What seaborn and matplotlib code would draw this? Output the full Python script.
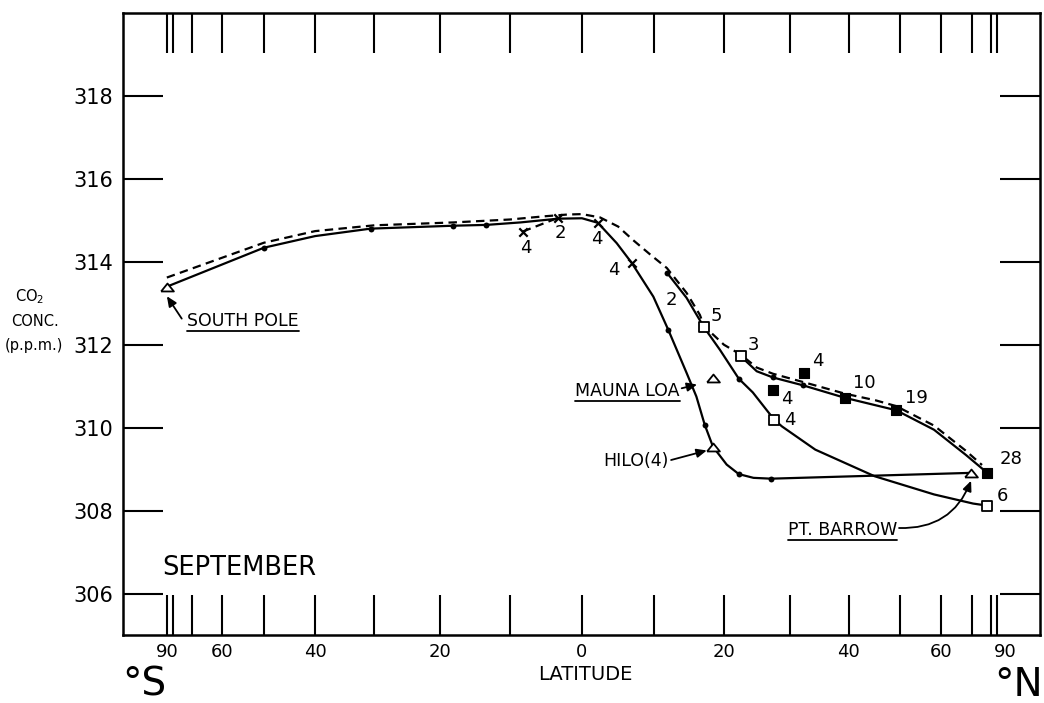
import numpy as np
import pandas as pd
import matplotlib
matplotlib.use("Agg")
import matplotlib.pyplot as plt
import seaborn as sns
from matplotlib.lines import Line2D
from matplotlib.transforms import ScaledTranslation

# ---------------------------------------------------------------------------
# September CO2 concentration (p.p.m.) against latitude (deg, south negative)
# ---------------------------------------------------------------------------

# Solid curve: South Pole -> equator -> Hilo -> Pt. Barrow
curve_a_lat = [-90, -50, -40, -30.6, -18.1, -13.3, -8.5, -3.3, 0, 2.2, 4.8, 6.9,
               9.9, 12.0, 14.6, 16.0, 17.2, 18.4, 20.4, 22.2, 24.4, 27.1, 69.5]
curve_a_co2 = [313.40, 314.34, 314.62, 314.80, 314.87, 314.89, 314.95, 315.04,
               315.05, 314.94, 314.45, 313.97, 313.16, 312.36, 311.32, 310.75,
               310.07, 309.54, 309.11, 308.88, 308.79, 308.77, 308.91]

# Dashed curve: zonal mean
curve_b_lat = [-89.5, -50, -40, -30, -18, -10, -5, -2, 0, 2.5, 5, 7.1, 9.5, 11.8,
               14.6, 16.5, 17.1, 20, 22.5, 24.9, 27.4, 32.2, 39.3, 45, 49.2, 58,
               67.5, 74.5]
curve_b_co2 = [313.62, 314.46, 314.74, 314.88, 314.95, 315.02, 315.10, 315.14,
               315.15, 315.07, 314.85, 314.52, 314.17, 313.85, 313.25, 312.72,
               312.45, 312.00, 311.76, 311.45, 311.30, 311.10, 310.82, 310.66,
               310.52, 310.05, 309.45, 309.10]

# Solid curve: aircraft profile ending at the open square near Pt. Barrow
curve_c_lat = [11.8, 14.6, 17.1, 19.4, 22.2, 24.3, 27.6, 28.8, 34.2, 44.8, 58,
               70.4, 77.5]
curve_c_co2 = [313.74, 313.13, 312.42, 311.88, 311.18, 310.85, 310.19, 310.03,
               309.47, 308.83, 308.39, 308.17, 308.12]

# Solid curve: ship profile ending at the filled square near Pt. Barrow
curve_d_lat = [22.5, 24.9, 27.4, 32.2, 39.3, 49.2, 58, 67.5, 77.5]
curve_d_co2 = [311.72, 311.36, 311.21, 311.02, 310.72, 310.42, 309.95, 309.35,
               308.91]

# Short dashed link between two ship samples south of the equator
link_lat = [-8.2, -3.3]
link_co2 = [314.73, 315.06]

# Plotted points on the curves
dot_lat = [-50, -30.6, -18.1, -13.3, 12.0, 17.2, 22.2, 27.1, 11.8, 22.2, 27.4, 32.2]
dot_co2 = [314.34, 314.80, 314.87, 314.89, 312.36, 310.07, 308.88, 308.77,
           313.74, 311.18, 311.21, 311.02]

# Station records (open triangles)
station_name = ["South Pole", "Mauna Loa", "Hilo", "Pt. Barrow"]
station_lat = [-90, 18.4, 18.4, 69.5]
station_co2 = [313.40, 311.20, 309.54, 308.91]

# Ship samples (crosses) with number of samples
ship_lat = [-8.2, -3.3, 2.2, 6.9]
ship_co2 = [314.73, 315.06, 314.94, 313.97]
ship_n = ["4", "2", "4", "4"]

# Aircraft samples (open squares) with number of samples
air_lat = [17.1, 22.5, 27.6, 77.5]
air_co2 = [312.42, 311.72, 310.19, 308.12]
air_n = ["5", "3", "4", "6"]

# Flask samples (filled squares) with number of samples
flask_lat = [27.4, 32.3, 39.3, 49.2, 77.5]
flask_co2 = [310.92, 311.33, 310.72, 310.42, 308.91]
flask_n = ["4", "4", "10", "19", "28"]

# Axis tick values
lat_ticks = list(range(-90, 91, 10))
lat_labelled = {90: "90", 60: "60", 40: "40", 20: "20", 0: "0"}
co2_ticks = [306, 308, 310, 312, 314, 316, 318]


# Latitude axis drawn in sine of latitude, extended linearly past the poles
def sine_lat(lat):
    lat = np.asarray(lat, dtype=float)
    a = np.abs(lat)
    core = np.sin(np.radians(np.minimum(a, 90.0)))
    return np.sign(lat) * np.where(a <= 90.0, core, 1.0 + (a - 90.0) / 90.0)


def sine_lat_inv(s):
    s = np.asarray(s, dtype=float)
    a = np.abs(s)
    core = np.degrees(np.arcsin(np.minimum(a, 1.0)))
    return np.sign(s) * np.where(a <= 1.0, core, 90.0 + (a - 1.0) * 90.0)


sns.set_theme(style="white")
plt.rcParams["font.family"] = ["DejaVu Sans"]
plt.rcParams["axes.linewidth"] = 1.8
plt.rcParams["text.color"] = "black"

W, H = 1044, 703
fig = plt.figure(figsize=(W / 100, H / 100), dpi=100)
fig.patch.set_facecolor("white")
ax = fig.add_axes([123 / W, 1 - 635 / H, (1040 - 123) / W, (635 - 13) / H])
ax.set_facecolor("white")

LW = 1.6
ink = "black"

for lat, co2, dashed in [(curve_a_lat, curve_a_co2, False),
                         (curve_b_lat, curve_b_co2, True),
                         (curve_c_lat, curve_c_co2, False),
                         (curve_d_lat, curve_d_co2, False),
                         (link_lat, link_co2, True)]:
    df = pd.DataFrame({"lat": lat, "co2": co2})
    kw = dict(linestyle=(0, (3.8, 2.4))) if dashed else {}
    sns.lineplot(data=df, x="lat", y="co2", sort=False, estimator=None,
                 color=ink, lw=LW, ax=ax, zorder=2, **kw)

# point markers
sns.scatterplot(x=dot_lat, y=dot_co2, color=ink, s=18, edgecolor=ink,
                linewidth=0, ax=ax, zorder=4)

tri = [(-1, -0.62), (1, -0.62), (0, 0.62), (-1, -0.62)]
sns.scatterplot(x=station_lat, y=station_co2, marker=tri, s=85,
                facecolor="white", edgecolor=ink, linewidth=1.3, ax=ax, zorder=5)
sns.scatterplot(x=ship_lat, y=ship_co2, marker="x", s=36, color=ink,
                linewidth=1.6, ax=ax, zorder=5)
sns.scatterplot(x=air_lat, y=air_co2, marker="s", s=48, facecolor="white",
                edgecolor=ink, linewidth=1.3, ax=ax, zorder=5)
sns.scatterplot(x=flask_lat, y=flask_co2, marker="s", s=44, color=ink,
                edgecolor=ink, linewidth=0.8, ax=ax, zorder=5)

ax.set_xscale("function", functions=(sine_lat, sine_lat_inv))
ax.set_xlim(-99.5, 99.3)
ax.set_ylim(305, 320)

# sample-count labels beside their markers (offsets in points)
count_fs = 13


def count_label(lat, co2, txt, dx, dy, ha="left", va="center"):
    ax.annotate(txt, xy=(lat, co2), xytext=(dx, dy), textcoords="offset points",
                ha=ha, va=va, fontsize=count_fs, color=ink, zorder=6)


ship_off = [(2, -12), (2, -11), (-1, -12), (-9, -5)]
ship_ha = ["center", "center", "center", "right"]
for la, c, n, (dx, dy), ha in zip(ship_lat, ship_co2, ship_n, ship_off, ship_ha):
    count_label(la, c, n, dx, dy, ha=ha)

air_off = [(5, 8), (5, 8), (7, 0), (7, 7)]
for la, c, n, (dx, dy) in zip(air_lat, air_co2, air_n, air_off):
    count_label(la, c, n, dx, dy)

flask_off = [(6, -7), (6, 8), (6, 11), (6, 9), (9, 10)]
for la, c, n, (dx, dy) in zip(flask_lat, flask_co2, flask_n, flask_off):
    count_label(la, c, n, dx, dy)

ax.text(12.5, 313.08, "2", fontsize=count_fs, ha="center", va="center", color=ink)

# station names with arrows
name_fs = 12.5
arrow_kw = dict(arrowstyle="-|>,head_length=0.5,head_width=0.22", color=ink,
                lw=1.3, shrinkA=0, shrinkB=0)


def station_text(x, y, txt, ha, underline=True):
    t = ax.text(x, y, txt, fontsize=name_fs, ha=ha, va="center", color=ink,
                zorder=6)
    return (t, underline)


labels = [
    station_text(-72.0, 312.57, "SOUTH POLE", "left"),
    station_text(13.6, 310.89, "MAUNA LOA", "right"),
    station_text(12.0, 309.19, "HILO(4)", "right", underline=False),
    station_text(49.4, 307.54, "PT. BARROW", "right"),
]

ax.annotate("", xy=(-89.0, 313.17), xytext=(-74.6, 312.63), arrowprops=arrow_kw)
ax.annotate("", xy=(16.1, 311.04), xytext=(13.9, 310.95), arrowprops=arrow_kw)
ax.annotate("", xy=(17.5, 309.45), xytext=(12.4, 309.22), arrowprops=arrow_kw)
ax.annotate("", xy=(69.6, 308.72), xytext=(49.8, 307.58),
            arrowprops=dict(arrow_kw, connectionstyle="arc3,rad=0.35"))

ax.text(0.0425, 0.1085, "SEPTEMBER", transform=ax.transAxes, fontsize=18.5,
        ha="left", va="center", color=ink)

# ticks: long inward marks on all four sides
ax.set_xticks(lat_ticks)
ax.set_xticklabels([lat_labelled.get(abs(v), "") for v in lat_ticks])
ax.set_yticks(co2_ticks)
ax.set_yticklabels([str(v) for v in co2_ticks])
ax.tick_params(axis="x", which="major", direction="in", length=29, width=1.5,
               top=True, bottom=True, labelsize=13, pad=6, colors=ink)
ax.tick_params(axis="y", which="major", direction="in", length=29, width=1.5,
               left=True, right=True, labelsize=15, pad=7, colors=ink)
ax.minorticks_off()
for sp in ax.spines.values():
    sp.set_visible(True)
    sp.set_color(ink)
    sp.set_linewidth(1.8)

xt = ax.get_xticklabels()
xt[-1].set_transform(xt[-1].get_transform() +
                     ScaledTranslation(6 / 72, 0, fig.dpi_scale_trans))

ax.set_xlabel("")
ax.set_ylabel("")

# axis captions
fig.text(585 / W, 1 - 674 / H, "LATITUDE", fontsize=14, ha="center",
         va="center", color=ink)
fig.text(122 / W, 1 - 696 / H, "°S", fontsize=28, ha="left", va="baseline",
         color=ink)
fig.text(1043 / W, 1 - 696 / H, "°N", fontsize=28, ha="right", va="baseline",
         color=ink)
fig.text(30 / W, 1 - 297 / H, "CO$_2$", fontsize=10.5, ha="center",
         va="center", color=ink)
fig.text(35 / W, 1 - 322 / H, "CONC.", fontsize=10.5, ha="center",
         va="center", color=ink)
fig.text(34 / W, 1 - 346 / H, "(p.p.m.)", fontsize=10.5, ha="center",
         va="center", color=ink)

# underline the station names
fig.canvas.draw()
renderer = fig.canvas.get_renderer()
inv = fig.transFigure.inverted()
for t, ul in labels:
    if not ul:
        continue
    bb = t.get_window_extent(renderer)
    (x0, y0), (x1, _) = inv.transform([(bb.x0, bb.y0 - 1), (bb.x1, bb.y0 - 1)])
    fig.add_artist(Line2D([x0, x1], [y0, y0], transform=fig.transFigure,
                          color=ink, lw=1.3))

fig.savefig("out.png", dpi=100, facecolor="white")
